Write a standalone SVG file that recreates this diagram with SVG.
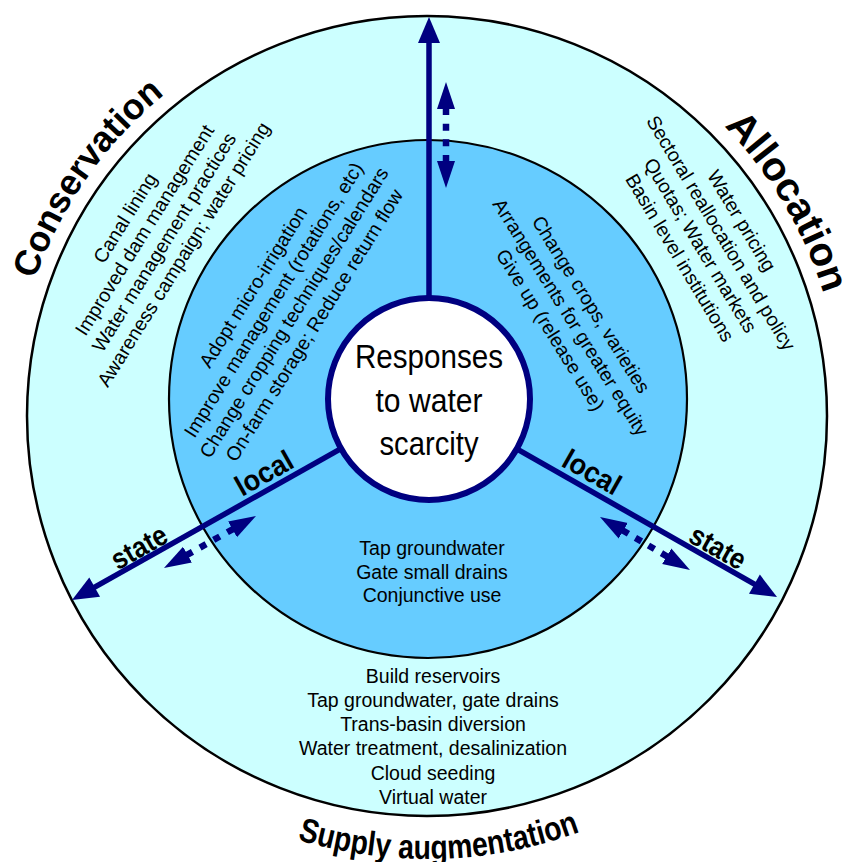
<svg xmlns="http://www.w3.org/2000/svg" width="854" height="862" viewBox="0 0 854 862">
<style>
.bg{fill:#FFFFFF}
.ring-outer{fill:#CCFFFF;stroke:#000;stroke-width:2.5}
.ring-inner{fill:#66CCFF;stroke:#000;stroke-width:2.2}
.core{fill:#FFFFFF;stroke:#000080;stroke-width:6}
.t{font-family:"Liberation Sans",Arial,sans-serif;font-size:19.5px;fill:#000;text-anchor:middle}
.title{font-family:"Liberation Sans",Arial,sans-serif;font-weight:bold;fill:#000;text-anchor:middle}
.lvl{font-family:"Liberation Sans",Arial,sans-serif;font-weight:bold;font-size:29px;fill:#000;text-anchor:middle}
.ctr{font-family:"Liberation Sans",Arial,sans-serif;font-size:33px;fill:#000;text-anchor:middle}
.main{stroke:#000080;stroke-width:5.5;fill:none}
.dash{stroke:#000080;stroke-width:6.5;fill:none;stroke-dasharray:7 8.67}
</style>
<defs>
<marker id="ah" markerUnits="userSpaceOnUse" markerWidth="28" markerHeight="24" viewBox="0 -12 27 24" refX="1" refY="0" orient="auto"><path d="M0,-11 L26,0 L0,11 z" fill="#000080"/></marker>
<marker id="dh" markerUnits="userSpaceOnUse" markerWidth="28" markerHeight="20" viewBox="0 -10 28 20" refX="1" refY="0" orient="auto-start-reverse"><path d="M0,-9 L27,0 L0,9 z" fill="#000080"/></marker>
<path id="arcCons" d="M13.58,379.83 A415,415 0 0,1 251.61,39.88"/>
<path id="arcAlloc" d="M630.09,54.09 A415,415 0 0,1 841.97,410.93"/>
<path id="arcSupply" d="M216.30,805.69 A443,443 0 0,0 659.13,793.32"/>
</defs>
<rect class="bg" x="0" y="0" width="854" height="862"/>

<g id="outer-ring"><circle class="ring-outer" cx="427" cy="416" r="400"/></g>
<g id="inner-ring"><circle class="ring-inner" cx="428" cy="399" r="259"/></g>

<g id="connectors">
<path class="main" d="M429,300 L429,42" marker-end="url(#ah)"/>
<path class="main" d="M341.9,448.1 L93.8,587.7" marker-end="url(#ah)"/>
<path class="main" d="M515.9,448.4 L755.3,584.65" marker-end="url(#ah)"/>
<path class="dash" d="M446,108 L446,162" marker-start="url(#dh)" marker-end="url(#dh)"/>
<path class="dash" d="M233.4,528.8 L186.6,555.2" marker-start="url(#dh)" marker-end="url(#dh)"/>
<path class="dash" d="M622.4,530.2 L667.6,556.8" marker-start="url(#dh)" marker-end="url(#dh)" style="stroke-dasharray:7 8.1"/>
</g>

<g id="center-node">
<circle class="core" cx="429" cy="399" r="101"/>
<text class="ctr" x="429" y="368" textLength="148" lengthAdjust="spacingAndGlyphs">Responses</text>
<text class="ctr" x="429" y="412" textLength="107" lengthAdjust="spacingAndGlyphs">to water</text>
<text class="ctr" x="429" y="455" textLength="99" lengthAdjust="spacingAndGlyphs">scarcity</text>
</g>

<g id="title-conservation"><text class="title" style="font-size:36px"><textPath href="#arcCons" startOffset="50%" textLength="229" lengthAdjust="spacingAndGlyphs">Conservation</textPath></text></g>
<g id="title-allocation"><text class="title" style="font-size:40px"><textPath href="#arcAlloc" startOffset="50%" textLength="197" lengthAdjust="spacingAndGlyphs">Allocation</textPath></text></g>
<g id="title-supply"><text class="title" style="font-size:34px"><textPath href="#arcSupply" startOffset="50%" textLength="288" lengthAdjust="spacingAndGlyphs">Supply augmentation</textPath></text></g>

<g id="conservation-items" transform="translate(154,236) rotate(-58)">
<text class="t" x="0" y="-27.5">Canal lining</text>
<text class="t" x="0" y="-4.5">Improved dam management</text>
<text class="t" x="0" y="18.5">Water management practices</text>
<text class="t" x="0" y="41.5">Awareness campaign; water pricing</text>
</g>

<g id="allocation-items" transform="translate(711,239) rotate(59)">
<text class="t" x="0" y="-29">Water pricing</text>
<text class="t" x="0" y="-5">Sectoral reallocation and policy</text>
<text class="t" x="0" y="19">Quotas; Water markets</text>
<text class="t" x="0" y="43">Basin level institutions</text>
</g>

<g id="local-conservation-items" transform="translate(283.5,306) rotate(-58)">
<text class="t" x="0" y="-29">Adopt micro-irrigation</text>
<text class="t" x="0" y="-5">Improve management (rotations, etc)</text>
<text class="t" x="0" y="19">Change cropping techniques/calendars</text>
<text class="t" x="0" y="43">On-farm storage; Reduce return flow</text>
</g>

<g id="local-allocation-items" transform="translate(571,317) rotate(58)">
<text class="t" x="0" y="-17">Change crops, varieties</text>
<text class="t" x="0" y="7">Arrangements for greater equity</text>
<text class="t" x="0" y="31">Give up (release use)</text>
</g>

<g id="local-supply-items">
<text class="t" x="432" y="555">Tap groundwater</text>
<text class="t" x="432" y="578.5">Gate small drains</text>
<text class="t" x="432" y="602">Conjunctive use</text>
</g>

<g id="supply-items">
<text class="t" x="433" y="683">Build reservoirs</text>
<text class="t" x="433" y="707">Tap groundwater, gate drains</text>
<text class="t" x="433" y="731">Trans-basin diversion</text>
<text class="t" x="433" y="755">Water treatment, desalinization</text>
<text class="t" x="433" y="780">Cloud seeding</text>
<text class="t" x="433" y="804">Virtual water</text>
</g>

<g id="level-labels">
<text class="lvl" transform="translate(264,473) rotate(-29.4)" x="0" y="10" textLength="62" lengthAdjust="spacingAndGlyphs">local</text>
<text class="lvl" transform="translate(139,547) rotate(-29.4)" x="0" y="10" textLength="60" lengthAdjust="spacingAndGlyphs">state</text>
<text class="lvl" transform="translate(592,472) rotate(29.6)" x="0" y="10" textLength="62" lengthAdjust="spacingAndGlyphs">local</text>
<text class="lvl" transform="translate(718,547) rotate(29.6)" x="0" y="10" textLength="60" lengthAdjust="spacingAndGlyphs">state</text>
</g>
</svg>
